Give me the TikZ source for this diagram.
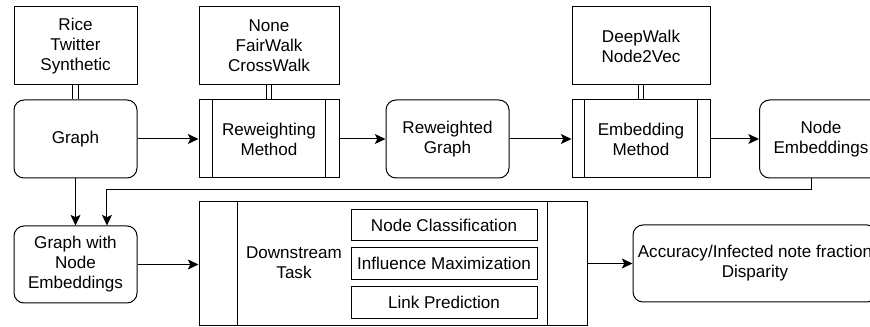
\documentclass[tikz,border=0pt]{standalone}
\usepackage{fontspec}
\setmainfont{Liberation Sans}
\usetikzlibrary{arrows.meta}

\begin{document}
\begin{tikzpicture}[x=0.75pt,y=-0.75pt]
				\tikzstyle{every node}=[font=\fontsize{12.8}{15}\selectfont,align=center,line width=0.75pt,inner sep=1pt]
				\tikzstyle{databox}=[draw,rectangle,minimum height=58.5pt]
				\tikzstyle{roundbox}=[draw,rectangle,rounded corners=7.5pt,minimum width=92.25pt,minimum height=58.5pt]
				\tikzstyle{procbox}=[draw,rectangle,minimum height=58.5pt]
				\tikzstyle{taskbox}=[draw,rectangle,minimum width=139.5pt,minimum height=23.5pt]
				\tikzstyle{arr}=[line width=0.75pt,-{Stealth[length=8pt,width=7.5pt,inset=1.8pt]}]
				\tikzstyle{dbl}=[double,double distance=3.5pt,line width=0.75pt]
				\useasboundingbox (0,0) rectangle (870,327);
				\clip (0,0) rectangle (870,327);
				\node[databox,minimum width=92.25pt] (datasets) at (75.5,46) {Rice\\Twitter\\Synthetic};
				\node[roundbox] (graph) at (75.5,139) {Graph};
				\node[databox,minimum width=105pt] (walks) at (269,46) {None\\FairWalk\\CrossWalk};
				\node[procbox,minimum width=105pt] (rew) at (269,139) {Reweighting\\Method};
				\node[roundbox] (rgraph) at (447.5,139) {Reweighted\\Graph};
				\node[databox,minimum width=103.5pt] (embs) at (641,46) {DeepWalk\\Node2Vec};
				\node[procbox,minimum width=103.5pt] (emb) at (641,139) {Embedding\\Method};
				\node[roundbox] (nemb) at (821,139) {Node\\Embeddings};
				\node[roundbox,minimum height=57.75pt] (gwne) at (75.5,264.5) {Graph with\\Node\\Embeddings};
				\node[draw,rectangle,minimum width=291pt,minimum height=93pt] (down) at (393,264) {};
				\node (downlabel) at (294,263) {Downstream\\Task};
				\node[taskbox] (nc) at (444,225) {Node Classification};
				\node[taskbox] (im) at (444,263.5) {Influence Maximization};
				\node[taskbox] (lp) at (444,302.5) {Link Prediction};
				\node[roundbox,minimum width=183pt,minimum height=57.75pt] (acc) at (755,263.5) {Accuracy/Infected note fraction\\Disparity};
				\draw[line width=0.75pt] ([xshift=10.5pt]rew.north west) -- ([xshift=10.5pt]rew.south west)
					([xshift=-10.5pt]rew.north east) -- ([xshift=-10.5pt]rew.south east);
				\draw[line width=0.75pt] ([xshift=10pt]emb.north west) -- ([xshift=10pt]emb.south west)
					([xshift=-10pt]emb.north east) -- ([xshift=-10pt]emb.south east);
				\draw[line width=0.75pt] ([xshift=29.25pt]down.north west) -- ([xshift=29.25pt]down.south west)
					([xshift=-30pt]down.north east) -- ([xshift=-30pt]down.south east);
				\draw[dbl] (datasets) -- (graph);
				\draw[dbl] (walks) -- (rew);
				\draw[dbl] (embs) -- (emb);
				\draw[arr] (graph) -- (rew);
				\draw[arr] (rew) -- (rgraph);
				\draw[arr] (rgraph) -- (emb);
				\draw[arr] (emb) -- (nemb);
				\draw[arr] (graph) -- (gwne);
				\draw[arr] ([xshift=-7.5pt]nemb.south) -- ++(0,11) -| ([xshift=23.6pt]gwne.north);
				\draw[arr] (gwne) -- (gwne -| down.west);
				\draw[arr] (down.east |- acc.west) -- (acc);
\end{tikzpicture}
\end{document}
